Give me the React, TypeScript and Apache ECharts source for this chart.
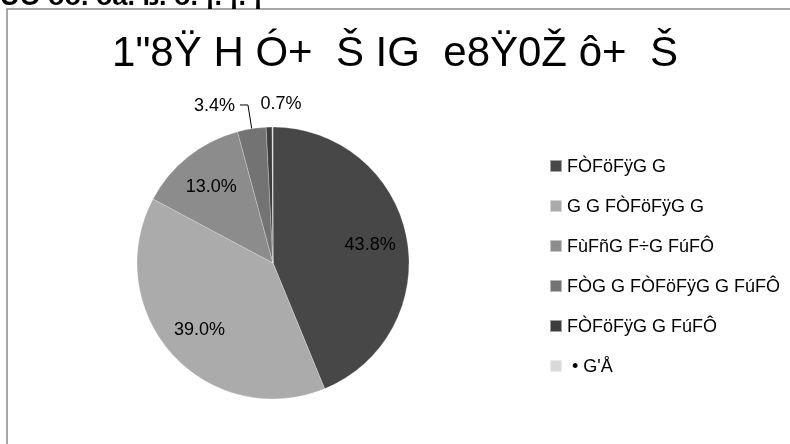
import React, { useEffect, useRef } from "react";
import * as echarts from "echarts";

const titleText = "1\"8Ÿ H Ó+  Š IG  e8Ÿ0Ž ô+  Š";
const topText = "ÜÖ öö. öá. ß. ö. ¡. ¡. ¡";
const categories = [
  "FÒFöFÿG G",
  "G G FÒFöFÿG G",
  "FùFñG F÷G FúFÔ",
  "FÒG G FÒFöFÿG G FúFÔ",
  "FÒFöFÿG G FúFÔ",
  " • G'Å",
];
const values = [43.8, 39.0, 13.0, 3.4, 0.7, 0.1];
const colors = ["#474747", "#ababab", "#8c8c8c", "#737373", "#3d3d3d", "#d9d9d9"];
const insideLabel = [true, true, true, false, false, false];
const outsideLabel = [false, false, false, true, true, false];
const outsideLine = [false, false, false, true, false, false];

const FONT = "'Liberation Sans', Arial, sans-serif";

export default function App() {
  const ref = useRef<HTMLDivElement>(null);
  useEffect(() => {
    if (!ref.current) return;
    const chart = echarts.init(ref.current, null, { renderer: "svg" });
    const fmt = (p: any) => Number(p.value).toFixed(1) + "%";
    chart.setOption({
      animation: false,
      color: colors,
      textStyle: { fontFamily: FONT },
      title: {
        text: titleText,
        left: "center",
        top: 25,
        textStyle: { fontFamily: FONT, fontSize: 42, fontWeight: "normal", color: "#000" },
      },
      graphic: [
        {
          type: "rect",
          shape: { x: 7, y: 9, width: 900, height: 600 },
          style: { fill: "none", stroke: "#8a8a8a", lineWidth: 1.5 },
          silent: true,
        },
        {
          type: "text",
          x: 0,
          y: -18,
          style: { text: topText, fontFamily: FONT, fontSize: 27, fontWeight: "bold", fill: "#000" },
          silent: true,
        },
      ],
      legend: {
        orient: "vertical",
        left: 544,
        top: 151,
        icon: "rect",
        itemWidth: 12,
        itemHeight: 12,
        itemGap: 20,
        data: categories,
        textStyle: { fontFamily: FONT, fontSize: 18, color: "#000", lineHeight: 20 },
        selectedMode: false,
      },
      series: [
        {
          type: "pie",
          center: [273, 263],
          radius: 136,
          startAngle: 90,
          clockwise: true,
          avoidLabelOverlap: false,
          emphasis: { disabled: true },
          itemStyle: { borderColor: "rgba(255,255,255,0.5)", borderWidth: 0.5 },
          labelLine: { length: 24, length2: 8, lineStyle: { color: "#000", width: 1 } },
          labelLayout: (p: any) => {
            if (p.dataIndex === 4) return { dx: 46, hideOverlap: false };
            return { hideOverlap: false };
          },
          data: categories.map((name, i) => ({
            name,
            value: values[i],
            itemStyle: { color: colors[i] },
            label: {
              show: outsideLabel[i],
              position: "outside",
              formatter: fmt,
              fontFamily: FONT,
              fontSize: 18,
              color: "#000",
            },
            labelLine: { show: outsideLine[i] },
          })),
        },
        {
          type: "pie",
          center: [273, 263],
          radius: [56, 136],
          startAngle: 90,
          clockwise: true,
          silent: true,
          emphasis: { disabled: true },
          itemStyle: { color: "rgba(0,0,0,0)" },
          labelLine: { show: false },
          data: categories.map((name, i) => ({
            name,
            value: values[i],
            label: {
              show: insideLabel[i],
              position: "inside",
              formatter: fmt,
              fontFamily: FONT,
              fontSize: 18,
              color: "#000",
            },
          })),
        },
      ],
    });
    return () => chart.dispose();
  }, []);
  return <div ref={ref} style={{ position: "fixed", left: 0, top: 0, width: 790, height: 444 }} />;
}
